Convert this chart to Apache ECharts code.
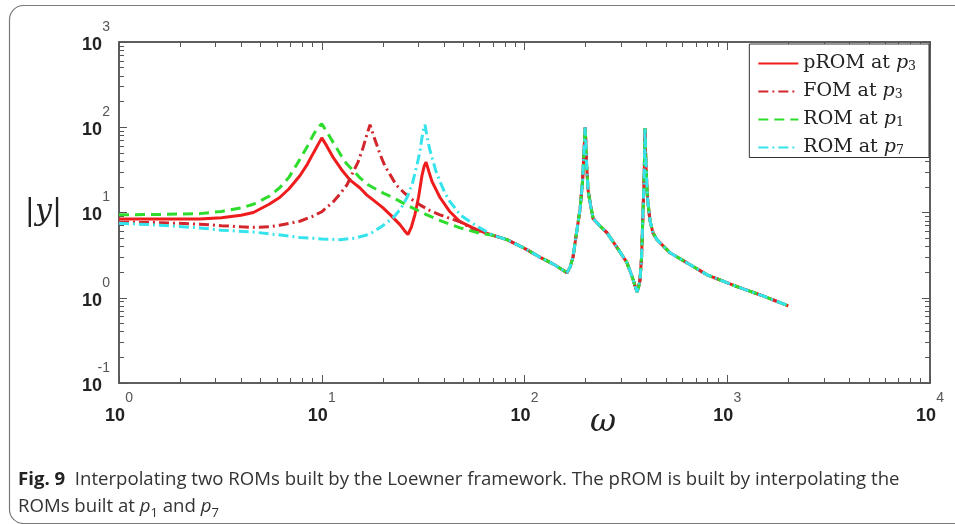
<!DOCTYPE html>
<html>
<head>
<meta charset="utf-8">
<script src="https://cdn.jsdelivr.net/npm/echarts@6/dist/echarts.min.js"></script>
<style>
  html, body { margin: 0; padding: 0; background: #fff; }
  #chart { width: 955px; height: 524px; }
</style>
</head>
<body>
<div id="chart"></div>
<script>
// 频率响应曲线 —— 双对数坐标
// 高频段四条曲线重合，共用一段数据
const tailOmega = [70, 82, 100, 119, 140, 155, 162, 168, 173.5, 180, 188, 193, 196, 198, 199, 200.5, 202, 206, 212, 218, 235, 255, 290, 320, 340, 352, 359, 366, 371, 378, 384, 388, 391, 393, 395, 399, 405, 416, 430, 450, 522, 650, 795, 1117, 1500, 2000]
const tailMag = [5.4, 4.8, 3.8, 3.0, 2.45, 2.1, 1.97, 2.3, 3.0, 5.5, 11, 22, 45, 75, 100, 70, 40, 18, 12, 8.5, 7.0, 5.8, 3.7, 2.58, 1.75, 1.35, 1.17, 1.35, 1.6, 3.0, 10, 20, 45, 98, 55, 28, 14, 8.0, 5.8, 4.8, 3.37, 2.47, 1.86, 1.35, 1.05, 0.805]

// pROM at p3
const promOmega = [1, 1.6, 2.5, 3.2, 4.0, 4.6, 5.5, 6.2, 6.9, 7.8, 8.5, 9.1, 9.6, 10.0, 10.6, 11.4, 12.5, 13.8, 15.4, 16.7, 18.3, 20.0, 22.0, 24.3, 25.5, 26.6, 27.7, 28.8, 30.0, 31.2, 32.0, 32.7, 33.8, 35.0, 38.3, 42.9, 48.1, 55.7, 60.3]
const promMag = [8.4, 8.4, 8.4, 8.7, 9.3, 10.0, 12.5, 15, 19, 27, 37, 50, 63, 75, 60, 44, 32, 24, 19.5, 16, 13.5, 11.4, 9.2, 7.2, 6.2, 5.5, 6.8, 9.4, 15, 27, 35, 39, 30, 23, 15, 10.2, 7.8, 6.6, 6.1]

// FOM at p3
const fomOmega = [1, 1.6, 2.5, 3.2, 4.0, 4.6, 5.5, 6.2, 7.0, 7.8, 9.0, 10.0, 11.4, 12.3, 13.3, 14.2, 15.1, 16.0, 16.7, 17.3, 18.0, 19.4, 20.5, 21.7, 23.3, 25.2, 27.5, 30.5, 34.0, 38.3, 43, 48.1, 55.7, 60.3]
const fomMag = [7.7, 7.6, 7.3, 7.0, 6.8, 6.7, 6.8, 7.1, 7.5, 7.9, 9.0, 10.2, 13.4, 16.5, 21, 29, 39, 58, 82, 107, 80, 48, 35, 28, 21, 17.5, 14.5, 12.3, 10.6, 9.4, 8.5, 7.8, 6.4, 6.0]

// ROM at p1
const rom1Omega = [1, 1.6, 2.5, 3.2, 4.0, 4.6, 5.5, 6.2, 6.9, 7.8, 8.5, 9.1, 9.6, 10.0, 10.6, 11.4, 12.5, 13.3, 14.5, 15.4, 17, 18.7, 20.5, 22.5, 27.2, 33.0, 39.6, 48.1, 55.7, 60.3]
const rom1Mag = [9.4, 9.5, 9.7, 10.3, 11.3, 12.5, 15.5, 19.5, 26, 42, 60, 82, 100, 110, 88, 66, 46, 37, 30, 25.6, 21, 18.5, 16.5, 14.9, 11.7, 9.4, 7.8, 6.6, 6.0, 5.7]

// ROM at p7
const rom7Omega = [1, 1.6, 2.5, 3.2, 4.6, 6.0, 7.8, 9.0, 10.0, 12.3, 14.5, 16.5, 17.9, 20.0, 22.5, 24.5, 26.3, 28.0, 29.5, 30.5, 31.2, 31.8, 32.3, 33.0, 34.0, 35.0, 36.5, 38.3, 40.5, 42.9, 45.5, 48.1, 55.7, 60.3]
const rom7Mag = [7.5, 7.1, 6.6, 6.2, 5.9, 5.5, 5.1, 5.0, 4.9, 4.8, 5.0, 5.4, 5.9, 7.0, 8.7, 11, 14.9, 22, 36, 52, 75, 95, 107, 80, 56, 44, 31, 23, 17, 13.4, 11.2, 9.4, 7.4, 6.6]

const seriesNames = ['pROM at p3', 'FOM at p3', 'ROM at p1', 'ROM at p7']
const seriesColors = ['#ee1c1c', '#d3262c', '#2edc2e', '#35e3ec']

// 坐标轴刻度：十进位主刻度 + 对数次刻度
const xMajor = [1, 10, 100, 1000, 10000]
const yMajor = [0.1, 1, 10, 100, 1000]

function minorTicks(majors) {
  const out = []
  for (let i = 0; i < majors.length - 1; i++) {
    for (let k = 2; k <= 9; k++) out.push(+(majors[i] * k).toPrecision(6))
  }
  return out
}

function pairs(w, m) {
  return w.map((x, i) => [x, m[i]])
}

const chartInstance = echarts.init(document.getElementById('chart'))

const axisColor = '#555'
const expLabel = (v) => {
  const e = Math.round(Math.log10(v))
  return '{e|' + e + '}\n{b|10}'
}
const labelRich = {
  e: { fontFamily: 'Liberation Sans', fontSize: 14, color: '#555', lineHeight: 16, width: 28, align: 'right' },
  b: { fontFamily: 'Liberation Sans', fontSize: 18, fontWeight: 'bold', color: '#222', lineHeight: 20, width: 28, align: 'left' }
}

function makeAxis(dim, position, ticks, len, withLabel, extra) {
  const isX = dim === 'x'
  const ax = {
    type: 'log',
    logBase: 10,
    min: isX ? 1 : 0.1,
    max: isX ? 10000 : 1000,
    position: position,
    axisLine: { show: true, onZero: false, lineStyle: { color: axisColor, width: 1.5 } },
    axisTick: { show: true, inside: true, length: len, customValues: ticks, lineStyle: { color: axisColor, width: 1 } },
    axisLabel: { show: false },
    splitLine: { show: false },
    minorTick: { show: false },
    minorSplitLine: { show: false }
  }
  if (withLabel) {
    ax.axisLabel = {
      show: true,
      customValues: isX ? xMajor : yMajor,
      formatter: expLabel,
      rich: labelRich,
      margin: isX ? 7 : 9,
      padding: isX ? 0 : [0, 0, 10, 0],
      showMinLabel: true,
      showMaxLabel: true
    }
  }
  return Object.assign(ax, extra || {})
}

const xAll = xMajor.concat(minorTicks(xMajor))
const yAll = yMajor.concat(minorTicks(yMajor))

const dashDot = [10, 4, 2, 4]

const option = {
  animation: false,
  backgroundColor: '#fff',
  graphic: [
    {
      type: 'rect',
      left: 7,
      top: 3,
      shape: { width: 990, height: 518, r: 14 },
      style: { fill: 'none', stroke: '#7a7a7a', lineWidth: 1.2 },
      silent: true
    }
  ],
  title: {
    left: 13,
    top: 461,
    text: '{b|Fig. 9}  Interpolating two ROMs built by the Loewner framework. The pROM is built by interpolating the\nROMs built at {i|p}{s|1} and {i|p}{s|7}',
    textStyle: {
      fontFamily: 'Open Sans',
      fontSize: 18.6,
      fontWeight: 'normal',
      color: '#333',
      lineHeight: 27,
      rich: {
        b: { fontFamily: 'Open Sans', fontSize: 18.6, fontWeight: 'bold', color: '#222', lineHeight: 27 },
        i: { fontFamily: 'Open Sans', fontSize: 18.6, fontStyle: 'italic', color: '#333', lineHeight: 27 },
        s: { fontFamily: 'Open Sans', fontSize: 13, color: '#333', lineHeight: 25, verticalAlign: 'bottom' }
      }
    }
  },
  grid: { left: 119, top: 42, right: 25, bottom: 141 },
  legend: {
    data: seriesNames,
    orient: 'vertical',
    right: 26,
    top: 44,
    itemWidth: 40,
    itemHeight: 14,
    itemGap: 8.5,
    padding: [10, 13, 0, 8],
    borderColor: '#333',
    borderWidth: 1,
    backgroundColor: '#fff',
    selectedMode: false,
    itemStyle: { opacity: 0 },
    formatter: (name) => {
      const parts = name.split(' at p')
      return '{t|' + parts[0] + ' at }{i|p}{s|' + parts[1] + '}'
    },
    textStyle: {
      rich: {
        t: { fontFamily: 'DejaVu Serif', fontSize: 19, color: '#222', lineHeight: 20 },
        i: { fontFamily: 'DejaVu Serif', fontSize: 19, fontStyle: 'italic', color: '#222', lineHeight: 20 },
        s: { fontFamily: 'DejaVu Serif', fontSize: 12.5, color: '#222', lineHeight: 12, verticalAlign: 'bottom' }
      }
    }
  },
  xAxis: [
    makeAxis('x', 'bottom', xMajor, 8, true, {
      name: 'ω',
      nameLocation: 'middle',
      nameGap: 24,
      nameMoveOverlap: false,
      nameTextStyle: { fontFamily: 'DejaVu Serif', fontStyle: 'italic', fontSize: 32, color: '#222', padding: [0, 0, 0, 157] }
    }),
    makeAxis('x', 'bottom', xAll, 5, false),
    makeAxis('x', 'top', xMajor, 8, false),
    makeAxis('x', 'top', xAll, 5, false)
  ],
  yAxis: [
    makeAxis('y', 'left', yMajor, 8, true, {
      name: '{b||}{i|y}{b||}',
      nameLocation: 'middle',
      nameRotate: 0,
      nameGap: 57,
      nameMoveOverlap: false,
      nameTextStyle: {
        rich: {
          b: { fontFamily: 'DejaVu Serif', fontSize: 30, color: '#222' },
          i: { fontFamily: 'DejaVu Serif', fontStyle: 'italic', fontSize: 30, color: '#222' }
        }
      }
    }),
    makeAxis('y', 'left', yAll, 5, false),
    makeAxis('y', 'right', yMajor, 8, false),
    makeAxis('y', 'right', yAll, 5, false)
  ],
  series: [
    {
      name: seriesNames[0],
      type: 'line',
      symbol: 'none',
      data: pairs(promOmega.concat(tailOmega), promMag.concat(tailMag)),
      lineStyle: { color: seriesColors[0], width: 3, type: 'solid' },
      itemStyle: { color: seriesColors[0] },
      z: 2
    },
    {
      name: seriesNames[1],
      type: 'line',
      symbol: 'none',
      data: pairs(fomOmega.concat(tailOmega), fomMag.concat(tailMag)),
      lineStyle: { color: seriesColors[1], width: 3, type: dashDot },
      itemStyle: { color: seriesColors[1] },
      z: 3
    },
    {
      name: seriesNames[2],
      type: 'line',
      symbol: 'none',
      data: pairs(rom1Omega.concat(tailOmega), rom1Mag.concat(tailMag)),
      lineStyle: { color: seriesColors[2], width: 3, type: [10, 6] },
      itemStyle: { color: seriesColors[2] },
      z: 4
    },
    {
      name: seriesNames[3],
      type: 'line',
      symbol: 'none',
      data: pairs(rom7Omega.concat(tailOmega), rom7Mag.concat(tailMag)),
      lineStyle: { color: seriesColors[3], width: 3, type: dashDot },
      itemStyle: { color: seriesColors[3] },
      z: 5
    }
  ]
}

chartInstance.setOption(option)
</script>
</body>
</html>
